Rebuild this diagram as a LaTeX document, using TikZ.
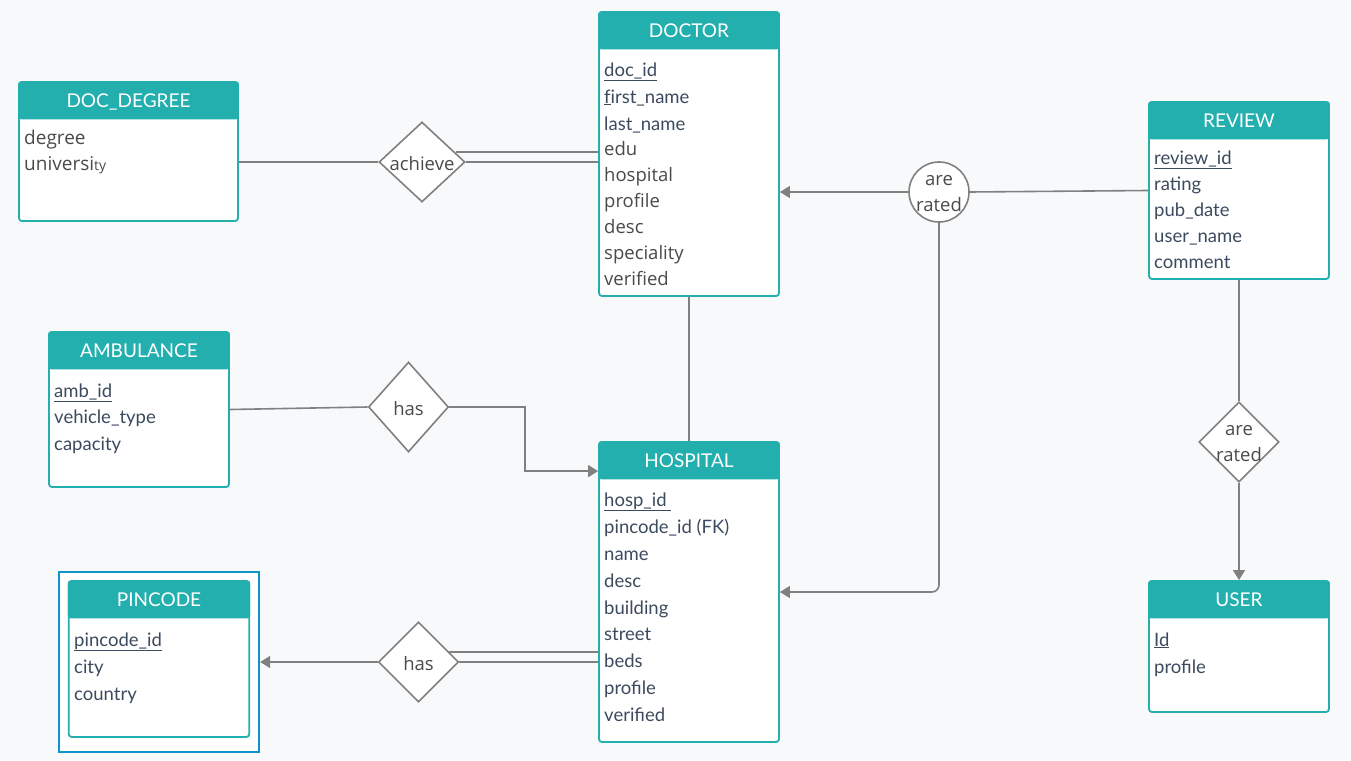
\documentclass[tikz,border=0pt]{standalone}
\usepackage{fontspec}
\setmainfont{Lato}
\newfontfamily\opensans{Open Sans}
\usetikzlibrary{shapes.geometric,arrows.meta}

\definecolor{headteal}{RGB}{35,175,174}
\definecolor{wire}{RGB}{128,128,128}
\definecolor{slate}{RGB}{60,74,95}
\definecolor{graytext}{RGB}{74,74,74}
\definecolor{frameblue}{RGB}{14,148,201}
\definecolor{paper}{RGB}{248,249,251}

\tikzset{
  entity/.style={draw=headteal, fill=white, line width=1.8pt, rounded corners=3pt, inner sep=0pt},
  header/.style={anchor=north, fill=headteal, text=white, rounded corners=3pt, inner sep=0pt,
    minimum height=38pt, text height=15pt, text depth=0pt, font=\fontsize{19}{22}\selectfont},
  attr/.style={anchor=west, inner sep=0pt, text=slate, text height=17pt, text depth=3pt,
    font=\fontsize{18.5}{21}\selectfont},
  oattr/.style={attr, text=graytext, font=\opensans\fontsize{18.5}{21}\selectfont},
  relation/.style={diamond, draw=wire, fill=white, line width=1.6pt, inner sep=0pt},
  reltext/.style={text=graytext, font=\opensans\fontsize{18.5}{26}\selectfont, align=center, yshift=-2pt},
  link/.style={draw=wire, line width=1.6pt},
  tip/.style={-{Triangle[length=10pt,width=12pt]}}
}

\begin{document}
\begin{tikzpicture}[x=1pt, y=-1pt]

\fill[paper] (0,0) rectangle (1351,760);

% entities
\node[entity, minimum width=219pt, minimum height=139pt] (degree) at (128.5,151.5) {};
\node[header, minimum width=220.8pt] (degreeh) at (degree.north) {DOC\_DEGREE};
\node[oattr, font=\opensans\fontsize{19}{21}\selectfont] (degree1) at (24,137) {degree};
\node[oattr, font=\opensans\fontsize{19}{21}\selectfont] (degree2) at (24,163) {universi{\fontsize{14}{16}\selectfont ty}};

\node[entity, minimum width=180pt, minimum height=284pt] (doctor) at (689,154) {};
\node[header, minimum width=181.8pt] (doctorh) at (doctor.north) {DOCTOR};
\node[attr] (doc1) at (604,69) {\underline{doc\_id}};
\node[attr] (doc2) at (604,96) {\underline{f}irst\_name};
\node[attr] (doc3) at (604,123) {last\_name};
\node[oattr] (doc4) at (604,148) {edu};
\node[oattr] (doc5) at (604,174) {hospital};
\node[oattr] (doc6) at (604,200) {profile};
\node[oattr] (doc7) at (604,226) {desc};
\node[oattr] (doc8) at (604,252) {speciality};
\node[oattr] (doc9) at (604,278) {verified};

\node[entity, minimum width=180pt, minimum height=177pt] (review) at (1239,190.5) {};
\node[header, minimum width=181.8pt] (reviewh) at (review.north) {REVIEW};
\node[attr] (rev1) at (1154,157) {\underline{review\_id}};
\node[attr] (rev2) at (1154,183) {rating};
\node[attr] (rev3) at (1154,209) {pub\_date};
\node[attr] (rev4) at (1154,235) {user\_name};
\node[attr] (rev5) at (1154,261) {comment};

\node[entity, minimum width=180pt, minimum height=155pt] (ambulance) at (139,409.5) {};
\node[header, minimum width=181.8pt] (ambulanceh) at (ambulance.north) {AMBULANCE};
\node[attr] (amb1) at (54,390) {\underline{amb\_id}};
\node[attr] (amb2) at (54,416) {vehicle\_type};
\node[attr] (amb3) at (54,443) {capacity};

\node[entity, minimum width=180pt, minimum height=300pt] (hospital) at (689,592) {};
\node[header, minimum width=181.8pt] (hospitalh) at (hospital.north) {HOSPITAL};
\node[attr] (hosp1) at (604,499) {\underline{hosp\_id~}};
\node[attr] (hosp2) at (604,526) {pincode\_id (FK)};
\node[attr] (hosp3) at (604,553) {name};
\node[attr] (hosp4) at (604,580) {desc};
\node[attr] (hosp5) at (604,607) {building};
\node[attr] (hosp6) at (604,633) {street};
\node[attr] (hosp7) at (604,660) {beds};
\node[attr] (hosp8) at (604,687) {profile};
\node[attr] (hosp9) at (604,714) {verified};

\node[draw=frameblue, fill=white, line width=1.8pt, minimum width=200.5pt, minimum height=179.5pt, inner sep=0pt] (pinframe) at (159,662) {};
\node[entity, minimum width=180.5pt, minimum height=156pt] (pincode) at (159,659) {};
\node[header, minimum width=182.3pt] (pincodeh) at (pincode.north) {PINCODE};
\node[attr] (pin1) at (74,639) {\underline{pincode\_id}};
\node[attr] (pin2) at (74,666) {city};
\node[attr] (pin3) at (74,693) {country};

\node[entity, minimum width=180pt, minimum height=131pt] (user) at (1239,646.5) {};
\node[header, minimum width=181.8pt] (userh) at (user.north) {USER};
\node[attr] (user1) at (1154,639) {\underline{Id}};
\node[attr] (user2) at (1154,666) {profile};

% relationships
\node[relation, minimum width=86pt, minimum height=80pt, label={[reltext]center:achieve}] (achieve) at (422,162) {};
\node[relation, circle, minimum size=60pt, label={[reltext]center:are\\rated}] (rated1) at (939,192) {};
\node[relation, minimum width=80pt, minimum height=90pt, label={[reltext]center:has}] (hasamb) at (408.5,407) {};
\node[relation, minimum width=80pt, minimum height=80pt, label={[reltext]center:has}] (haspin) at (418.5,662) {};
\node[relation, minimum width=80pt, minimum height=80pt, label={[reltext]center:are\\rated}] (rated2) at (1239,442) {};

\coordinate (achieveup) at ([shift={(-10,-10)}]achieve.east);
\coordinate (haspinup) at ([shift={(-10,-10)}]haspin.east);

% connectors
\draw[link] (achieve.west -| degree.east) -- (achieve.west);
\draw[link] (achieveup) -- (achieveup -| doctor.west);
\draw[link] (achieve.east) -- (achieve.east -| doctor.west);

\draw[link] (doctor.south) -- (hospital.north);

\begin{scope}[tip]
\draw[link] (rated1.west) -- (rated1.west -| doctor.east);
\draw[link, rounded corners=7pt] (rated1.south) |- (hospital.east);
\draw[link] (hasamb.east) -- ++(75.5,0) |- ([yshift=-30pt]hospital.north west);
\draw[link] (haspin.west) -- (haspin.west -| pinframe.east);
\draw[link] (rated2.south) -- (user.north);
\end{scope}

\draw[link] (rated1.east) -- (review.west);
\draw[link] (ambulance.east) -- (hasamb.west);
\draw[link] (haspinup) -- (haspinup -| hospital.west);
\draw[link] (haspin.east) -- (haspin.east -| hospital.west);
\draw[link] (review.south) -- (rated2.north);

\end{tikzpicture}
\end{document}
